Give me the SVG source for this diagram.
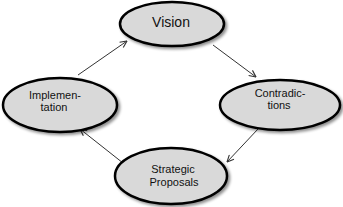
<svg xmlns="http://www.w3.org/2000/svg" width="343" height="207" viewBox="0 0 343 207">
<defs>
<filter id="sh" x="-20%" y="-20%" width="150%" height="160%">
<feGaussianBlur in="SourceAlpha" stdDeviation="1.5"/>
<feOffset dx="1.5" dy="2" result="b"/>
<feComponentTransfer><feFuncA type="linear" slope="0.45"/></feComponentTransfer>
<feMerge><feMergeNode/><feMergeNode in="SourceGraphic"/></feMerge>
</filter>
<marker id="ah" viewBox="0 0 10 10" refX="9.5" refY="5" markerWidth="8" markerHeight="8" markerUnits="userSpaceOnUse" orient="auto">
<path d="M1,1 L9.5,5 L1,9" fill="none" stroke="#333" stroke-width="1.4"/>
</marker>
<style>
.n{fill:#d9d9d9;stroke:#000;stroke-width:2.5;filter:url(#sh)}
.t{font-family:"Liberation Sans",Arial,sans-serif;font-size:11px;fill:#111;text-anchor:middle}
.c{fill:none;stroke:#333;stroke-width:1;marker-end:url(#ah)}
</style>
</defs>
<rect width="343" height="207" fill="#fff"/>
<g id="connectors">
<line class="c" x1="78" y1="75" x2="127" y2="41"/>
<line class="c" x1="213" y1="45" x2="256" y2="77"/>
<line class="c" x1="258" y1="129" x2="227" y2="162"/>
<line class="c" x1="123" y1="163" x2="80" y2="129"/>
</g>
<g id="vision">
<ellipse class="n" cx="172" cy="24" rx="52" ry="22"/>
<text class="t" x="171" y="27" style="font-size:14px">Vision</text>
</g>
<g id="implementation">
<ellipse class="n" cx="60" cy="105" rx="57" ry="27"/>
<text class="t" x="55" y="99">Implemen-</text>
<text class="t" x="54" y="111">tation</text>
</g>
<g id="contradictions">
<ellipse class="n" cx="280" cy="105" rx="60" ry="25"/>
<text class="t" x="280" y="97">Contradic-</text>
<text class="t" x="279" y="109">tions</text>
</g>
<g id="strategic">
<ellipse class="n" cx="171" cy="176" rx="56" ry="28"/>
<text class="t" x="173" y="173">Strategic</text>
<text class="t" x="174" y="186">Proposals</text>
</g>
</svg>
